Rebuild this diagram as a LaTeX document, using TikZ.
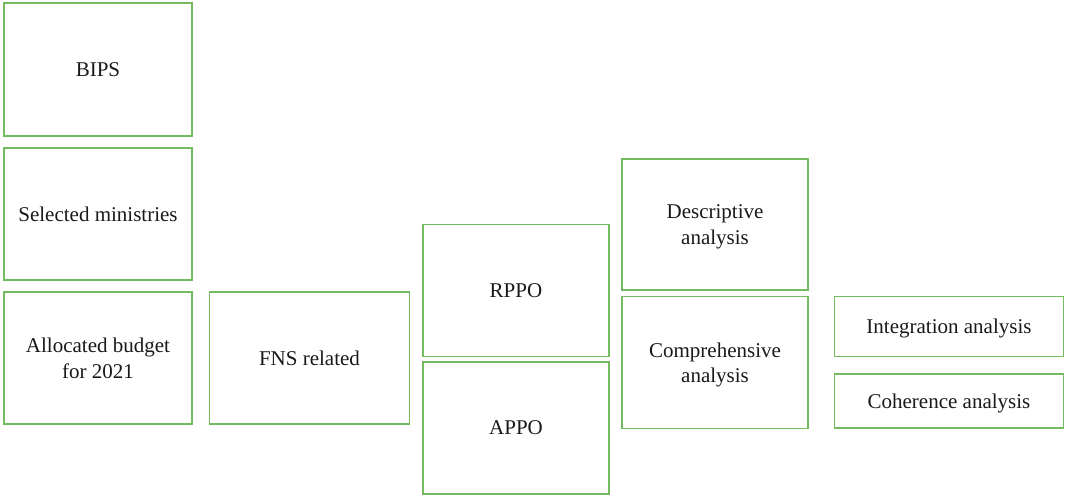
\documentclass[tikz,border=0pt]{standalone}
\usepackage{fontspec}
\setmainfont{Liberation Serif}
\newfontfamily\boxfont{Liberation Serif}
\definecolor{boxgreen}{RGB}{118,186,96}
\begin{document}
\begin{tikzpicture}[x=1pt,y=-1pt,
  box/.style={draw=boxgreen,line width=1.3pt,rectangle,inner sep=0pt,align=center,
    text depth=0pt,font=\boxfont\fontsize{21}{25.5}\selectfont,text=black!90}]
\useasboundingbox (0,0) rectangle (1065,496);
\node[box,minimum width=188pt,minimum height=133pt] (bips) at (98,69.5) {BIPS};
\node[box,minimum width=188pt,minimum height=132pt] (sel) at (98,214) {Selected ministries};
\node[box,minimum width=188pt,minimum height=132pt] (alloc) at (98,358) {Allocated budget\\for 2021};
\node[box,minimum width=200pt,minimum height=132pt] (fns) at (309.5,358) {FNS related};
\node[box,minimum width=186pt,minimum height=132pt] (rppo) at (516,290.5) {RPPO};
\node[box,minimum width=186pt,minimum height=132pt] (appo) at (516,428) {APPO};
\node[box,minimum width=186pt,minimum height=131pt] (desc) at (715,224.5) {Descriptive\\analysis};
\node[box,minimum width=186pt,minimum height=132pt] (comp) at (715,362.5) {Comprehensive\\analysis};
\node[box,minimum width=229pt,minimum height=60pt] (integ) at (949,326.5) {Integration analysis};
\node[box,minimum width=229pt,minimum height=54pt] (coh) at (949,401) {Coherence analysis};
\end{tikzpicture}
\end{document}
